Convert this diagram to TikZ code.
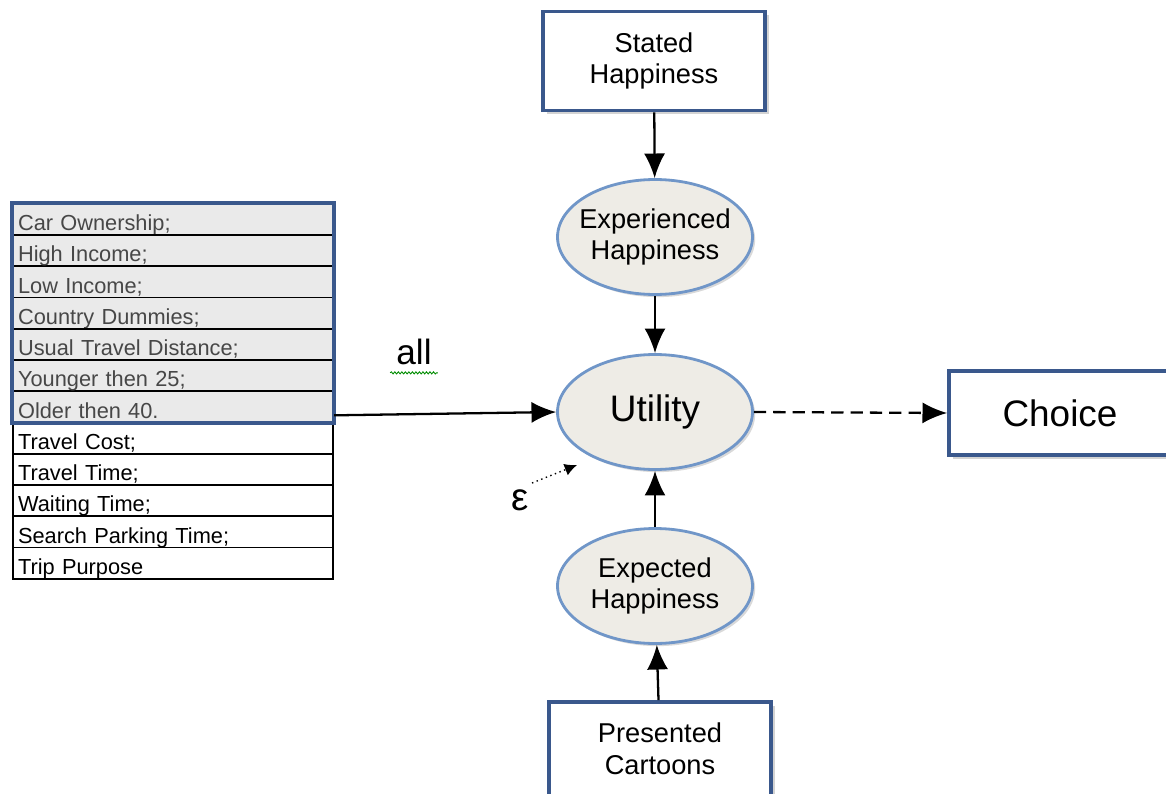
\documentclass[tikz,border=0pt]{standalone}
\usepackage{fontspec}
\setmainfont{Liberation Sans}
\usetikzlibrary{arrows.meta,shadows,shapes.geometric,decorations.pathmorphing}
\definecolor{boxblue}{RGB}{58,88,140}
\definecolor{ellblue}{RGB}{112,150,200}
\definecolor{ellfill}{RGB}{238,236,230}
\definecolor{rowgray}{RGB}{234,234,234}
\newcommand{\rowHeight}[0]{0.625cm}

\begin{document}
\begin{tikzpicture}[x=0.02cm, y=-0.02cm]
  \tikzset{
    boxnode/.style={draw=boxblue, line width=2.2pt, fill=white, align=center,
      minimum width=4.44cm, font=\fontsize{15.5}{18}\selectfont,
      drop shadow={opacity=0.35, shadow xshift=2pt, shadow yshift=-2pt}},
    ellnode/.style={ellipse, draw=ellblue, line width=1.6pt, fill=ellfill, align=center,
      inner xsep=-0.3cm, inner ysep=0pt,
      minimum width=3.9cm, minimum height=2.3cm, font=\fontsize{15.5}{18}\selectfont,
      drop shadow={opacity=0.3, shadow xshift=1.5pt, shadow yshift=-1.5pt}},
    rownode/.style={draw=black, line width=0.9pt, anchor=north west, inner xsep=3pt,
      inner ysep=1pt, text height=14.3pt, text depth=1.4pt, minimum height=\rowHeight,
      text width=6.2cm, align=left, font=\fontsize{12.4}{14}\selectfont},
    arr/.style={line width=1.3pt, -{Latex[length=14pt, width=12pt]}}
  }
  \useasboundingbox (0,0) rectangle (1166,794);
  % central column
  \node[boxnode, minimum height=1.98cm] (stated) at (654,61) {Stated\\Happiness};
  \node[ellnode] (experienced) at (655,237) {Experienced\\Happiness};
  \node[ellnode, font=\fontsize{21}{24}\selectfont] (utility) at (655,412) {Utility};
  \node[ellnode] (expected) at (655,586) {Expected\\Happiness};
  \node[boxnode, minimum height=1.88cm] (presented) at (660,749) {Presented\\Cartoons};
  \node[boxnode, minimum height=1.68cm, font=\fontsize{21}{24}\selectfont] (choice) at (1060,413) {Choice};
  % list of explanatory variables
  \foreach \lbl [count=\i] in {Car Ownership;, High Income;, Low Income;, Country Dummies;,
      Usual Travel Distance;, Younger then 25;, Older then 40., Travel Cost;, Travel Time;,
      Waiting Time;, Search Parking Time;, Trip Purpose} {
    \ifnum\i<8
      \node[rownode, fill=rowgray, text=black!72] (row\i) at (12,{203+(\i-1)*31.25}) {\lbl};
    \else
      \node[rownode, fill=white] (row\i) at (12,{203+(\i-1)*31.25}) {\lbl};
    \fi
  }
  \draw[boxblue, line width=2.2pt] (row1.north west) rectangle (row7.south east);
  % labels
  \node[font=\fontsize{20}{22}\selectfont] (all) at (414,352) {all};
  \draw[green!55!black, line width=0.5pt, decorate,
    decoration={snake, segment length=2pt, amplitude=0.6pt}]
    ([yshift=-1pt]all.south west) -- ([yshift=-1pt]all.south east);
  \node[font=\fontsize{22}{24}\selectfont] (eps) at (520,500) {ε};
  \coordinate (epsfrom) at (532,483);
  \coordinate (epstip) at (577,465);
  % connectors
  \draw[arr] (stated) -- (experienced);
  \draw[arr] (experienced) -- (utility);
  \draw[arr] (expected) -- (utility);
  \draw[arr] (presented) -- (expected);
  \draw[arr] ([yshift=0.16cm]row7.south east) -- (utility.west);
  \draw[arr, dashed, dash pattern=on 7pt off 4pt] (utility.east) -- (choice.west);
  \draw[line width=0.8pt, dotted, -{Latex[length=7pt, width=7pt]}] (epsfrom) -- (epstip);
\end{tikzpicture}
\end{document}
